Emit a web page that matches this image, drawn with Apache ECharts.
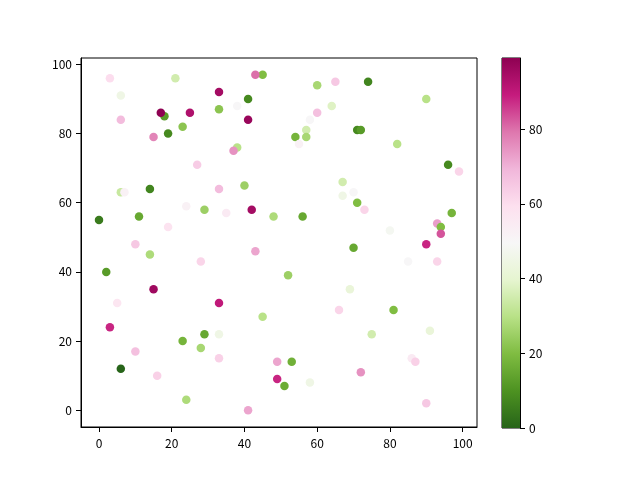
<!DOCTYPE html>
<html>
<head>
<meta charset="utf-8">
<script src="https://cdn.jsdelivr.net/npm/echarts@6/dist/echarts.min.js"></script>
<style>html,body{margin:0;padding:0;background:#fff}#c{width:640px;height:480px}</style>
</head>
<body>
<div id="c"></div>
<script>
var xs = [3,21,6,18,17,25,6,23,19,15,27,14,6,7,0,11,24,29,19,
          45,43,33,41,33,38,41,60,65,64,60,58,57,54,57,55,38,37,33,40,35,42,48,56,67,67,
          74,90,71,72,82,96,99,70,71,73,97,93,94,94,80,
          10,14,28,2,15,5,3,29,23,28,10,6,16,24,
          43,52,33,45,33,33,66,49,53,49,51,58,41,
          70,90,85,93,69,81,75,91,86,87,72,90];
var ys = [96,96,91,85,86,86,84,82,80,79,71,64,63,63,55,56,59,58,53,
          97,97,92,90,87,88,84,94,95,88,86,84,81,79,79,77,76,75,64,65,57,58,56,56,66,62,
          95,90,81,81,77,71,69,63,60,58,57,54,53,51,52,
          48,45,43,40,35,31,24,22,20,18,17,12,10,3,
          46,39,31,27,22,15,29,14,14,9,7,8,0,
          47,48,43,43,35,29,22,23,15,14,11,2];
var cs = [60,35,45,12,99,93,68,22,8,77,64,7,33,52,5,15,52,25,58,
          20,80,95,8,22,50,97,27,65,38,67,50,35,18,27,52,30,75,68,25,55,95,28,15,35,45,
          7,30,8,12,30,8,62,50,20,62,18,73,20,83,48,
          65,28,62,12,96,57,88,15,18,27,67,0,63,28,
          72,25,90,30,45,63,62,72,17,88,16,45,72,
          15,88,50,62,42,20,35,42,55,63,75,65];
var xTicks = [0,20,40,60,80,100];
var yTicks = [0,20,40,60,80,100];
var cTicks = [0,20,40,60,80];
var cMin = 0, cMax = 99;
var piygR = ['#276419','#4d9221','#7fbc41','#b8e186','#e6f5d0','#f7f7f7','#fde0ef','#f1b6da','#de77ae','#c51b7d','#8e0152'];

var data = xs.map(function(x,i){return [x, ys[i], cs[i]];});
var font = '"Noto Sans CJK SC","Liberation Sans",sans-serif';
var stops = piygR.map(function(c,i){return {offset:i/(piygR.length-1), color:c};});

var chart = echarts.init(document.getElementById('c'), null, {renderer:'canvas'});
chart.setOption({
  animation:false,
  backgroundColor:'#fff',
  grid:[
    {left:81, right:163, top:58, bottom:53, show:true, borderColor:'#000', borderWidth:1, backgroundColor:'transparent'},
    {left:502, width:18, top:58, height:370, show:true, borderColor:'#000', borderWidth:1, backgroundColor:'transparent'}
  ],
  xAxis:[
    {type:'value', gridIndex:0, min:-4.95, max:103.95,
     axisLine:{show:true, onZero:false, lineStyle:{color:'#000', width:1}},
     axisTick:{show:true, inside:false, length:5, customValues:xTicks, lineStyle:{color:'#000'}},
     axisLabel:{show:true, customValues:xTicks, margin:10, color:'#000', fontSize:12, fontFamily:font},
     splitLine:{show:false}},
    {type:'category', gridIndex:1, data:['c'], show:false}
  ],
  yAxis:[
    {type:'value', gridIndex:0, min:-4.85, max:101.85,
     axisLine:{show:true, onZero:false, lineStyle:{color:'#000', width:1}},
     axisTick:{show:true, inside:false, length:5, customValues:yTicks, lineStyle:{color:'#000'}},
     axisLabel:{show:true, customValues:yTicks, margin:9, color:'#000', fontSize:12, fontFamily:font},
     splitLine:{show:false}},
    {type:'value', gridIndex:1, min:cMin, max:cMax, position:'right',
     axisLine:{show:true, lineStyle:{color:'#000', width:1}},
     axisTick:{show:true, inside:false, length:5, customValues:cTicks, lineStyle:{color:'#000'}},
     axisLabel:{show:true, customValues:cTicks, margin:9, color:'#000', fontSize:12, fontFamily:font},
     splitLine:{show:false}}
  ],
  visualMap:{show:false, type:'continuous', seriesIndex:0, dimension:2, min:cMin, max:cMax, inRange:{color:piygR}},
  series:[
    {type:'scatter', xAxisIndex:0, yAxisIndex:0, data:data, symbolSize:8.5, itemStyle:{opacity:1}},
    {type:'bar', xAxisIndex:1, yAxisIndex:1, data:[cMax], barWidth:'100%', silent:true,
     itemStyle:{color:new echarts.graphic.LinearGradient(0,1,0,0,stops)}}
  ]
});
</script>
</body>
</html>
